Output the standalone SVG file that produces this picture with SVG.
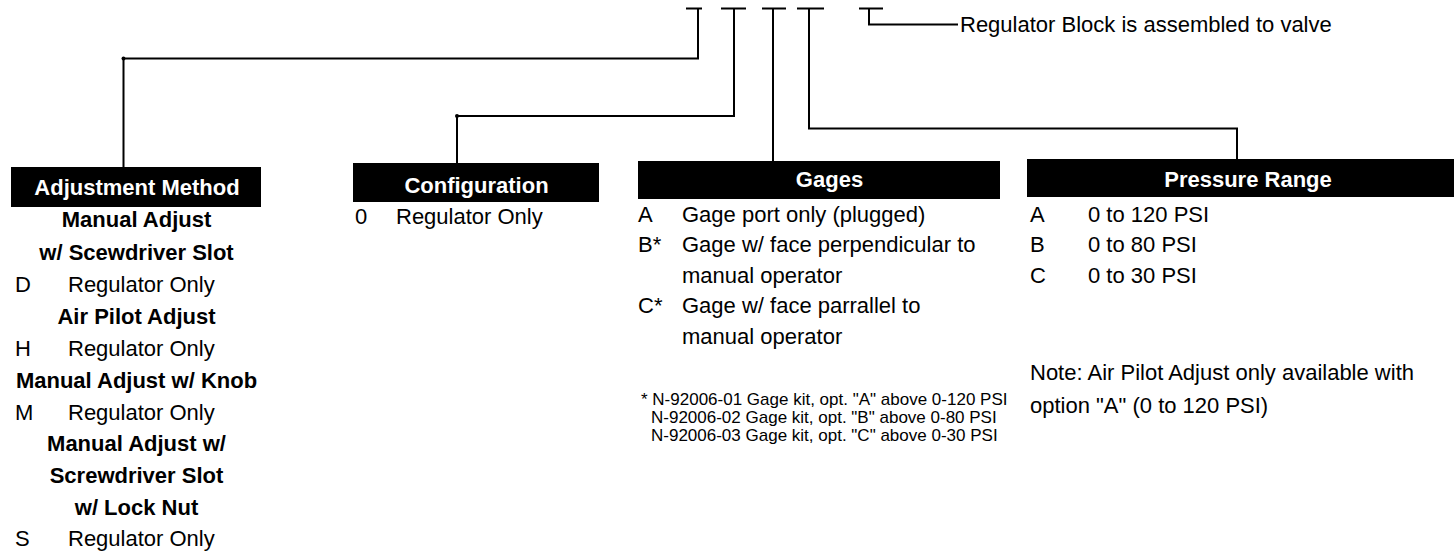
<svg xmlns="http://www.w3.org/2000/svg" width="1454" height="551" viewBox="0 0 1454 551">
  <style>
    text { font-family: "Liberation Sans", Arial, Helvetica, sans-serif; font-size: 22px; fill: #000; }
    .hdr { font-weight: bold; fill: #fff; text-anchor: middle; }
    .b { font-weight: bold; text-anchor: middle; }
    .fn { font-size: 17px; }
    .box { fill: #000; }
    .ln { fill: none; stroke: #000; stroke-width: 2; stroke-linejoin: miter; }
    .dot { fill: #000; }
  </style>
  <rect width="1454" height="551" fill="#fff"/>

  <g id="connectors">
    <!-- tee bars -->
    <path class="ln" d="M686 8.5H702 M721 8.5H746 M762 8.5H786 M797 8.5H824 M859 8.5H883"/>
    <!-- Adjustment Method -->
    <path class="ln" d="M698 8.5V58.5H123.5V167"/>
    <circle class="dot" cx="123.5" cy="58.5" r="2"/>
    <!-- Configuration -->
    <path class="ln" d="M734 8.5V116H457V163"/>
    <circle class="dot" cx="457" cy="116" r="2"/>
    <!-- Gages -->
    <path class="ln" d="M773 8.5V161"/>
    <!-- Pressure Range -->
    <path class="ln" d="M809 8.5V128.5H1237V159"/>
    <!-- Regulator block -->
    <path class="ln" d="M869 8.5V24.5H958"/>
  </g>

  <g id="regulator-block">
    <text x="960" y="32">Regulator Block is assembled to valve</text>
  </g>

  <g id="adjustment-method">
    <rect class="box" x="11" y="167" width="250" height="40"/>
    <text class="hdr" x="137" y="195">Adjustment Method</text>
    <text class="b" x="136.5" y="227">Manual Adjust</text>
    <text class="b" x="136.5" y="259.5">w/ Scewdriver Slot</text>
    <text x="15" y="292">D</text><text x="68" y="292">Regulator Only</text>
    <text class="b" x="136.5" y="323.5">Air Pilot Adjust</text>
    <text x="15" y="356">H</text><text x="68" y="356">Regulator Only</text>
    <text class="b" x="136.5" y="388">Manual Adjust w/ Knob</text>
    <text x="15" y="420">M</text><text x="68" y="420">Regulator Only</text>
    <text class="b" x="136.5" y="451">Manual Adjust w/</text>
    <text class="b" x="136.5" y="483">Screwdriver Slot</text>
    <text class="b" x="136.5" y="514.5">w/ Lock Nut</text>
    <text x="15" y="546">S</text><text x="68" y="546">Regulator Only</text>
  </g>

  <g id="configuration">
    <rect class="box" x="353" y="163" width="246" height="39"/>
    <text class="hdr" x="476.5" y="192.5">Configuration</text>
    <text x="355" y="224">0</text><text x="396" y="224">Regulator Only</text>
  </g>

  <g id="gages">
    <rect class="box" x="638" y="161" width="362" height="38"/>
    <text class="hdr" x="829.5" y="187">Gages</text>
    <text x="638" y="221.5">A</text><text x="682" y="221.5">Gage port only (plugged)</text>
    <text x="638" y="252">B*</text><text x="682" y="252">Gage w/ face perpendicular to</text>
    <text x="682" y="282.5">manual operator</text>
    <text x="638" y="313">C*</text><text x="682" y="313">Gage w/ face parrallel to</text>
    <text x="682" y="343.5">manual operator</text>
    <text class="fn" x="641" y="405">* N-92006-01 Gage kit, opt. "A" above 0-120 PSI</text>
    <text class="fn" x="651" y="423">N-92006-02 Gage kit, opt. "B" above 0-80 PSI</text>
    <text class="fn" x="651" y="441">N-92006-03 Gage kit, opt. "C" above 0-30 PSI</text>
  </g>

  <g id="pressure-range">
    <rect class="box" x="1027" y="159" width="440" height="38"/>
    <text class="hdr" x="1248" y="187">Pressure Range</text>
    <text x="1030" y="221.5">A</text><text x="1088" y="221.5">0 to 120 PSI</text>
    <text x="1030" y="252">B</text><text x="1088" y="252">0 to 80 PSI</text>
    <text x="1030" y="283">C</text><text x="1088" y="283">0 to 30 PSI</text>
    <text x="1030" y="380">Note: Air Pilot Adjust only available with</text>
    <text x="1030" y="413">option "A" (0 to 120 PSI)</text>
  </g>
</svg>
